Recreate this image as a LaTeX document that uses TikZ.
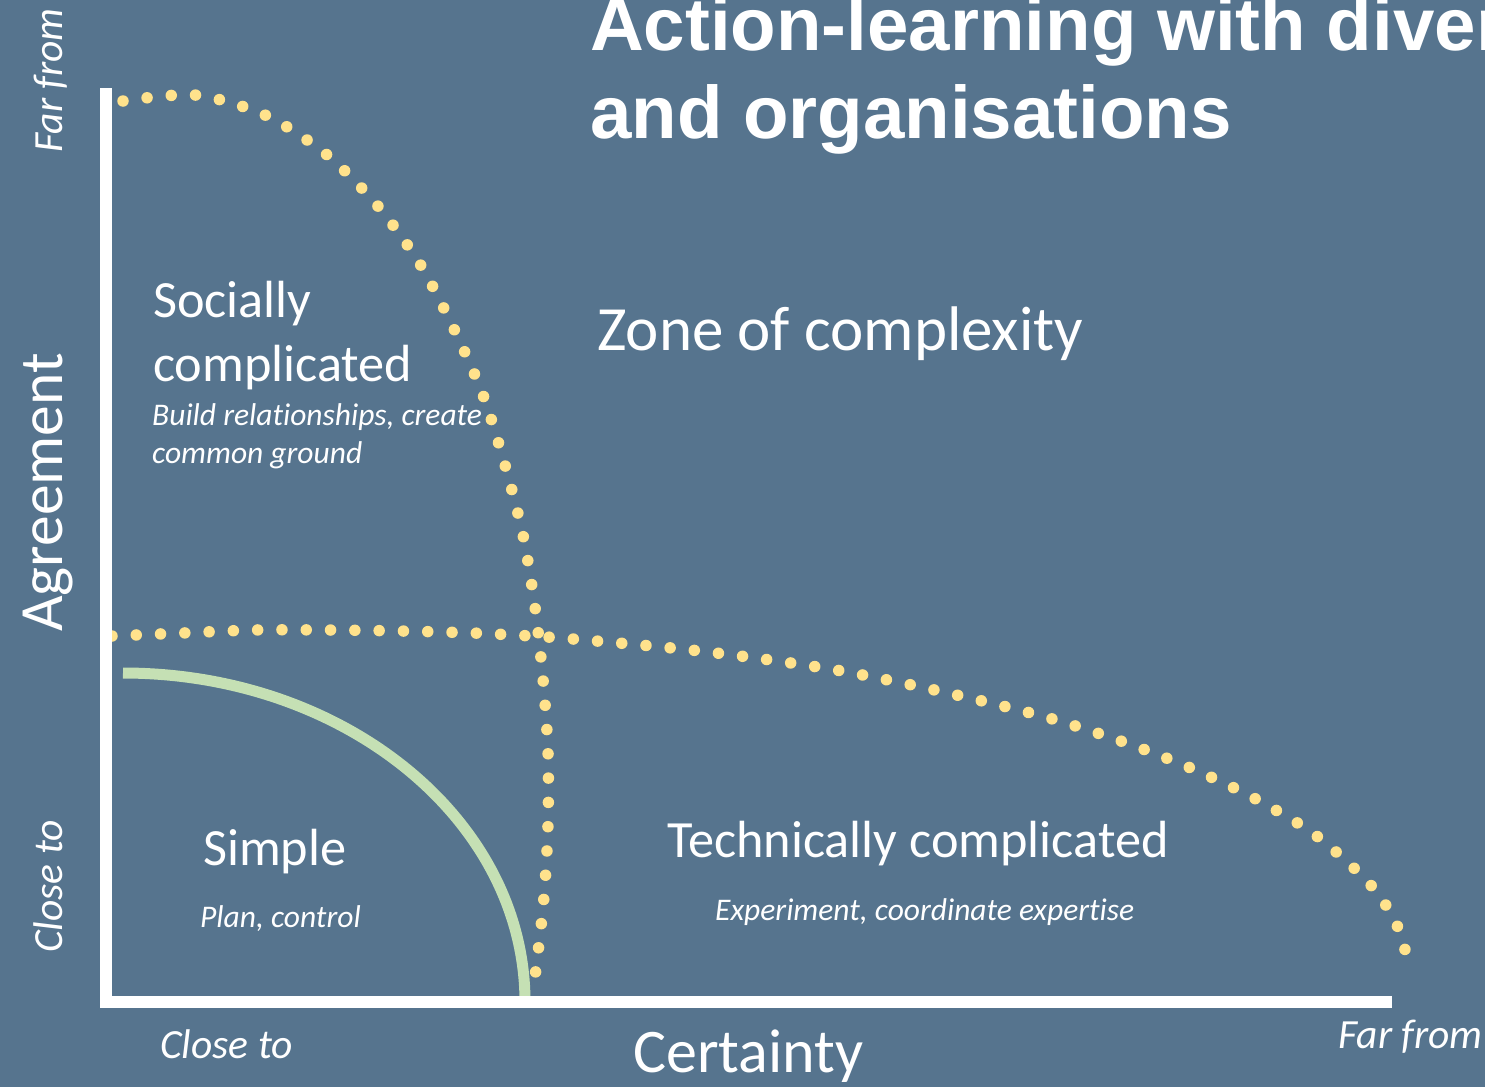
\documentclass[tikz,border=0pt]{standalone}
\usepackage{fontspec}
\setmainfont{Carlito}[Ligatures=NoCommon]
\newfontfamily\titlefont{Liberation Sans}

\definecolor{bgblue}{RGB}{86,116,142}
\definecolor{dotyellow}{RGB}{255,226,140}
\definecolor{arcgreen}{RGB}{197,224,180}
\newcommand\fsz[2]{\fontsize{#1}{#2}\selectfont}

\tikzset{
  dotline/.style={dotyellow, line width=11.5pt, line cap=round, dash pattern=on 0pt off 24.3pt},
  axisline/.style={white, line width=12pt},
  txt/.style={white, inner sep=0pt, anchor=base west}
}

\begin{document}
\begin{tikzpicture}[x=1pt, y=-1pt]  % 坐标按像素, y 轴向下
  \useasboundingbox (0,0) rectangle (1485,1087);
  \fill[bgblue] (0,0) rectangle (1485,1087);

  % 标题, 右边被裁掉
  \node[txt, font=\titlefont\bfseries\fsz{74.5}{88}] (title1) at (590,50) {Action-learning with diver};
  \node[txt, font=\titlefont\bfseries\fsz{74.5}{88}] (title2) at (590,138) {and organisations};

  % 两条点线
  \draw[dotline] plot[smooth] coordinates {(123,101) (195,95) (265,115) (326,154) (377,205) (420,264)
    (454,329) (483,395) (505,465) (523,535) (535,607) (543,679) (548,752) (548,825) (544,897) (536,969) (532,993)};
  \draw[dotline] plot[smooth] coordinates {(112,636) (183,633) (255,630) (328,630) (401,631) (473,633)
    (547,637) (619,643) (691,650) (763,659) (836,670) (907,684) (978,700) (1049,718) (1118,740)
    (1186,766) (1252,797) (1314,834) (1368,882) (1396,923) (1411,972)};

  % 绿色弧: 简单区
  \draw[arcgreen, line width=11pt] (123,673) arc[start angle=-90, end angle=0, x radius=402, y radius=329];

  % 坐标轴
  \draw[axisline] (106,88) -- (106,1002) -- (1392,1002);

  % 区域文字 (多行结点的 base 在最后一行)
  \node[txt, font=\fsz{52.3}{64}, align=left] (social) at (153,381) {Socially\\complicated};
  \node[txt, font=\itshape\fsz{31.5}{38}, align=left] (socialsub) at (152,463) {Build relationships, create\\common ground};
  \node[txt, font=\fsz{63}{72}] (zone) at (597,350) {Zone of complexity};
  \node[txt, font=\fsz{52.3}{60}] (simple) at (203,865) {Simple};
  \node[txt, font=\itshape\fsz{31.5}{36}] (simplesub) at (200,927) {Plan, control};
  \node[txt, font=\fsz{52.3}{60}] (tech) at (667,857) {Technically complicated};
  \node[txt, font=\itshape\fsz{31.5}{36}] (techsub) at (715,920) {Experiment, coordinate expertise};

  % 轴标题
  \node[txt, font=\fsz{61.5}{72}, rotate=90] (agree) at (62,632) {Agreement};
  \node[txt, font=\fsz{62}{72}] (certain) at (633,1072) {Certainty};
  \node[txt, font=\itshape\fsz{41.5}{48}, rotate=90] (yfar) at (62,153) {Far from};
  \node[txt, font=\itshape\fsz{41.5}{48}, rotate=90] (yclose) at (62,953) {Close to};
  \node[txt, font=\itshape\fsz{41.5}{48}] (xclose) at (160,1058) {Close to};
  \node[txt, font=\itshape\fsz{41.5}{48}] (xfar) at (1338,1048) {Far from};
\end{tikzpicture}
\end{document}
